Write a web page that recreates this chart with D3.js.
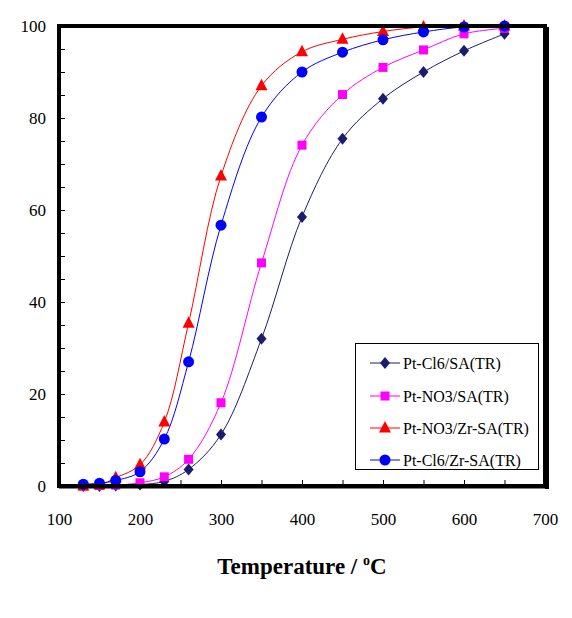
<!DOCTYPE html>
<html><head><meta charset="utf-8">
<script src="https://cdn.jsdelivr.net/npm/d3@7"></script>
<style>body{margin:0;background:#fff;} svg{display:block;} text{font-family:'Liberation Serif','Times New Roman',serif;}</style>
</head><body>
<svg id="chart" width="572" height="618"></svg>
<script>
const temps = [130,150,170,200,230,260,300,350,400,450,500,550,600,650];
const ptCl6SA   = [0,0,0.1,0.3,1.0,3.6,11.2,32,58.5,75.5,84.2,90,94.6,98.3];
const ptNO3SA   = [0,0.1,0.2,0.7,2.0,5.8,18.1,48.5,74.1,85.1,91,94.8,98.3,99.5];
const ptNO3ZrSA = [0,0.2,1.8,4.6,13.9,35.4,67.4,87,94.4,97.1,98.8,99.8,100,100];
const ptCl6ZrSA = [0.4,0.6,1.2,3.1,10.2,27,56.7,80.2,90,94.3,97,98.7,99.8,100];
const seriesNames = ["Pt-Cl6/SA(TR)","Pt-NO3/SA(TR)","Pt-NO3/Zr-SA(TR)","Pt-Cl6/Zr-SA(TR)"];
const seriesColors = ["#1c1c6e","#ff00ff","#ff0000","#0000ff"];
const seriesMarkers = ["diamond","square","triangle","circle"];
const xTicks = [100,200,300,400,500,600,700];
const yTicks = [0,20,40,60,80,100];

const seriesValues = [ptCl6SA, ptNO3SA, ptNO3ZrSA, ptCl6ZrSA];
const svg = d3.select("#chart");
const L=59, R=545, T=26, B=486;
const x = d3.scaleLinear().domain([100,700]).range([L,R]);
const y = d3.scaleLinear().domain([0,100]).range([B,T]);
const font = "'Liberation Serif','Times New Roman',serif";

// minor ticks
const g = svg.append("g");
g.append("g").attr("transform",`translate(0,${B})`)
  .call(d3.axisBottom(x).tickValues(d3.range(150,700,50)).tickSize(-6).tickFormat(""))
  .call(a=>a.select(".domain").remove())
  .call(a=>a.selectAll("line").attr("stroke","#000").attr("stroke-width",1));
g.append("g").attr("transform",`translate(${L},0)`)
  .call(d3.axisLeft(y).tickValues(d3.range(5,100,5)).tickSize(-6).tickFormat(""))
  .call(a=>a.select(".domain").remove())
  .call(a=>a.selectAll("line").attr("stroke","#000").attr("stroke-width",1));

// tick labels
g.append("g").attr("transform",`translate(0,${B})`)
  .call(d3.axisBottom(x).tickValues(xTicks).tickSize(0).tickPadding(27).tickFormat(d3.format("d")))
  .attr("font-family",font)
  .call(a=>a.select(".domain").remove())
  .call(a=>a.selectAll("text").style("font-family",font).attr("font-size",17).attr("fill","#000"));
g.append("g").attr("transform",`translate(${L},0)`)
  .call(d3.axisLeft(y).tickValues(yTicks).tickSize(0).tickPadding(13).tickFormat(d3.format("d")))
  .attr("font-family",font)
  .call(a=>a.select(".domain").remove())
  .call(a=>a.selectAll("text").style("font-family",font).attr("font-size",17).attr("fill","#000"));

// series
const line = d3.line().curve(d3.curveCatmullRom.alpha(0.5)).x(d=>x(d[0])).y(d=>y(d[1]));
function marker(sel, type, color){
  if(type==="circle") sel.append("circle").attr("r",5.5).attr("fill",color);
  else if(type==="square") sel.append("rect").attr("x",-4.5).attr("y",-4.5).attr("width",9).attr("height",9).attr("fill",color);
  else if(type==="triangle") sel.append("path").attr("d","M0,-7L6,4.5L-6,4.5Z").attr("fill",color);
  else sel.append("path").attr("d","M0,-6L5,0L0,6L-5,0Z").attr("fill",color);
}
seriesValues.forEach((vals,i)=>{
  const pts = temps.map((t,j)=>[t,vals[j]]);
  svg.append("path").attr("d",line(pts)).attr("fill","none").attr("stroke",seriesColors[i]).attr("stroke-width",1);
});
seriesValues.forEach((vals,i)=>{
  temps.forEach((t,j)=>{
    const m = svg.append("g").attr("transform",`translate(${x(t)},${y(vals[j])})`);
    marker(m, seriesMarkers[i], seriesColors[i]);
  });
});

// frame
svg.append("rect").attr("x",L).attr("y",T).attr("width",R-L).attr("height",B-T)
  .attr("fill","none").attr("stroke","#000").attr("stroke-width",4);
svg.append("line").attr("x1",R+2).attr("x2",R+2).attr("y1",T+1).attr("y2",B+3).attr("stroke","#000").attr("stroke-width",4);
svg.append("line").attr("x1",L).attr("x2",R+4).attr("y1",B+1).attr("y2",B+1).attr("stroke","#000").attr("stroke-width",3);

// legend
const lg = svg.append("g");
lg.append("rect").attr("x",355.5).attr("y",343.5).attr("width",183).attr("height",126)
  .attr("fill","#fff").attr("stroke","#000").attr("stroke-width",1);
const legY = [363,396,428,460];
seriesNames.forEach((n,i)=>{
  lg.append("line").attr("x1",370).attr("x2",400).attr("y1",legY[i]).attr("y2",legY[i])
    .attr("stroke",seriesColors[i]).attr("stroke-width",1);
  const m = lg.append("g").attr("transform",`translate(385,${legY[i]})`);
  marker(m, seriesMarkers[i], seriesColors[i]);
  lg.append("text").attr("x",403).attr("y",legY[i]).attr("dy","0.35em")
    .style("font-family",font).attr("font-size",16).attr("fill","#000").text(n);
});

// axis title
const tt = svg.append("text").attr("x",302).attr("y",574).attr("text-anchor","middle")
  .style("font-family",font).attr("font-size",23).attr("font-weight","bold").attr("fill","#000");
tt.append("tspan").text("Temperature / ");
tt.append("tspan").attr("font-size",14).attr("dy",-9).text("o");
tt.append("tspan").attr("dy",9).text("C");
</script>
</body></html>
